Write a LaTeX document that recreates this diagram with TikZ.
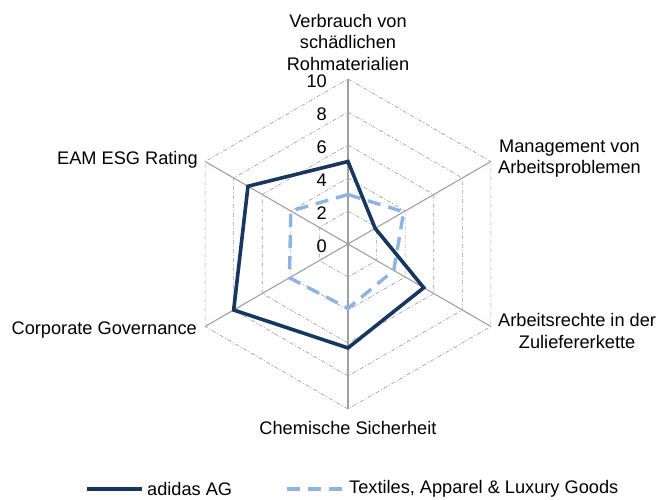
\documentclass[tikz,border=0pt]{standalone}
\usepackage{fontspec}
\setmainfont{Liberation Sans}
\definecolor{navy}{HTML}{17375E}
\definecolor{skyblue}{HTML}{8EB4E3}
\definecolor{axisgray}{HTML}{A0A0A0}
\tikzset{
  gridline/.style={draw=gray!80, line width=0.6pt, dash pattern=on 4pt off 2pt on 1pt off 2pt},
  axisline/.style={draw=axisgray, line width=1.1pt},
  adidas/.style={draw=navy, line width=3.6pt, line join=miter},
  branche/.style={draw=skyblue, line width=3.4pt, dash pattern=on 13pt off 8pt},
}
\begin{document}
\begin{tikzpicture}[x=1pt, y=1pt, every node/.style={font=\fontsize{18.2}{21.5}\selectfont, inner sep=0pt}]
    \useasboundingbox (-348,-255) rectangle (321,244);
    % Centre and axis ends
    \coordinate (c) at (0,0);
    \foreach \k/\a in {1/90, 2/30, 3/-30, 4/-90, 5/-150, 6/150}
        \coordinate (ax\k) at (\a:165);
    
    % Grid rings
    \foreach \r in {33, 66, 99, 132, 165}
        \draw[gridline] (90:\r) -- (30:\r) -- (-30:\r) -- (-90:\r) -- (-150:\r) -- (150:\r) -- cycle;
    
    % Axes
    \foreach \k in {1,...,6}
        \draw[axisline] (c) -- (ax\k);
    
    % Scale labels
    \foreach \v in {0,2,4,6,8,10}
        \node[anchor=east] (t\v) at (-21, 16.5*\v-2) {\v};
    
    % Data points
    \foreach \k/\a/\v in {1/90/5, 2/30/1.9, 3/-30/5.3, 4/-90/6.3, 5/-150/8, 6/150/7}
        \coordinate (a\k) at (\a:16.5*\v);
    \foreach \k/\a/\v in {1/90/3, 2/30/3.9, 3/-30/3.2, 4/-90/3.9, 5/-150/4.1, 6/150/4}
        \coordinate (b\k) at (\a:16.5*\v);
    
    \draw[branche] (b1) -- (b2) -- (b3) -- (b4) -- (b5) -- (b6) -- cycle;
    \draw[adidas] (a1) -- (a2) -- (a3) -- (a4) -- (a5) -- (a6) -- cycle;
    
    % Category labels
    \node[align=center] (cat1) at (0, 202) {Verbrauch von\\schädlichen\\Rohmaterialien};
    \node[anchor=west, align=center] (cat2) at (150, 85.5) {Management von\\Arbeitsproblemen};
    \node[anchor=west, align=center] (cat3) at (150, -87) {Arbeitsrechte in der\\Zuliefererkette};
    \node (cat4) at (0, -184) {Chemische Sicherheit};
    \node[anchor=east] (cat5) at (-151, -86) {Corporate Governance};
    \node[anchor=east] (cat6) at (-150, 84) {EAM ESG Rating};
    
    % Legend
    \coordinate (la) at (-261, -245);
    \coordinate (lb) at (-206, -245);
    \coordinate (lc) at (-61, -245);
    \coordinate (ld) at (-3, -245);
    \draw[adidas, line width=4pt] (la) -- (lb);
    \draw[branche] (lc) -- (ld);
    \node[anchor=west] (leg1) at (-201, -245) {adidas AG};
    \node[anchor=west] (leg2) at (1, -245) {Textiles, Apparel \& Luxury Goods};
\end{tikzpicture}
\end{document}
